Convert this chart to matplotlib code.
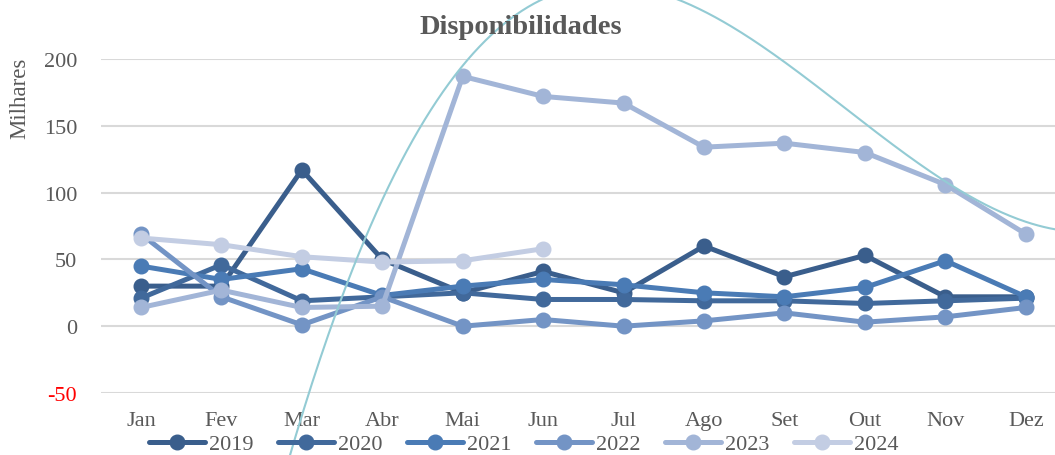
import numpy as np
import matplotlib
matplotlib.use("Agg")
import matplotlib.pyplot as plt

# monthly values (thousands)
months = ['Jan', 'Fev', 'Mar', 'Abr', 'Mai', 'Jun', 'Jul', 'Ago', 'Set', 'Out', 'Nov', 'Dez']
v2019 = [30, 30, 117, 50, 25, 41, 25, 60, 37, 53, 22, 22]
v2020 = [21, 46, 19, 22, 25, 20, 20, 19, 19, 17, 19, 21]
v2021 = [45, 35, 43, 23, 30, 35, 31, 25, 22, 29, 49, 22]
v2022 = [69, 22, 1, 22, 0, 5, 0, 4, 10, 3, 7, 14]
v2023 = [14, 27, 14, 15, 187, 172, 167, 134, 137, 130, 106, 69]
v2024 = [66, 61, 52, 48, 49, 58]
years = ['2019', '2020', '2021', '2022', '2023', '2024']
colors = ['#3a5e8c', '#41699b', '#4a7bb5', '#7394c5', '#a2b5d7', '#c3cde3']

# trendline points (month position, value)
trend_x = [2.89, 3.04, 3.35, 3.66, 4.10, 4.51, 5.05, 6.05, 8.07, 8.84, 9.90, 11.30, 12.36]
trend_v = [-96, -51, 0, 50, 100, 150, 200, 245, 245, 200, 150, 100, 72.7]

plt.rcParams['font.family'] = ['Liberation Serif', 'DejaVu Serif']
plt.rcParams['axes.unicode_minus'] = False

W, H = 1055, 456
fig = plt.figure(figsize=(W / 100, H / 100), dpi=100)
left, right, top, bottom = 100.75, 1066, 60, 394
ax = fig.add_axes([left / W, 1 - bottom / H, (right - left) / W, (bottom - top) / H])

x = np.arange(1, 13)
series = [v2019, v2020, v2021, v2022, v2023, v2024]
for vals, yr, c in zip(series, years, colors):
    ax.plot(x[:len(vals)], vals, color=c, lw=3.6, marker='o', ms=10.5,
            solid_capstyle='round', label=yr, zorder=3, clip_on=False)

# cubic trendline through the read points
coef = np.polyfit(trend_x, trend_v, 3)
tx = np.linspace(2.6, 12.6, 400)
ax.plot(tx, np.polyval(coef, tx), color='#93cbd4', lw=1.5, zorder=4, clip_on=False)

ax.set_xlim(0.5, 12.5)
ax.set_ylim(-50, 200)
ax.set_yticks([-50, 0, 50, 100, 150, 200])
ax.set_xticks(x)
ax.set_xticklabels(months)
ax.grid(axis='y', color='#d9d9d9', lw=1.5)
ax.set_axisbelow(True)
for s in ax.spines.values():
    s.set_visible(False)
ax.tick_params(length=0, labelsize=16, colors='#595959')
ax.tick_params(axis='x', pad=13)
ax.tick_params(axis='y', pad=17)
ax.get_yticklabels()[0].set_color('red')

fig.text(521 / W, 1 - 28 / H, 'Disponibilidades', ha='center', va='center',
         fontsize=20.5, fontweight='bold', color='#595959')
fig.text(20 / W, 1 - 98 / H, 'Milhares', rotation=90, ha='center', va='center',
         fontsize=16.5, color='#595959')

fig.legend(loc='center', bbox_to_anchor=(524 / W, 1 - 445 / H), ncol=6, frameon=False,
           fontsize=16, handlelength=2.5, columnspacing=1.1, handletextpad=0.2,
           labelcolor='#595959', borderpad=0)

fig.savefig('out.png', dpi=100)
